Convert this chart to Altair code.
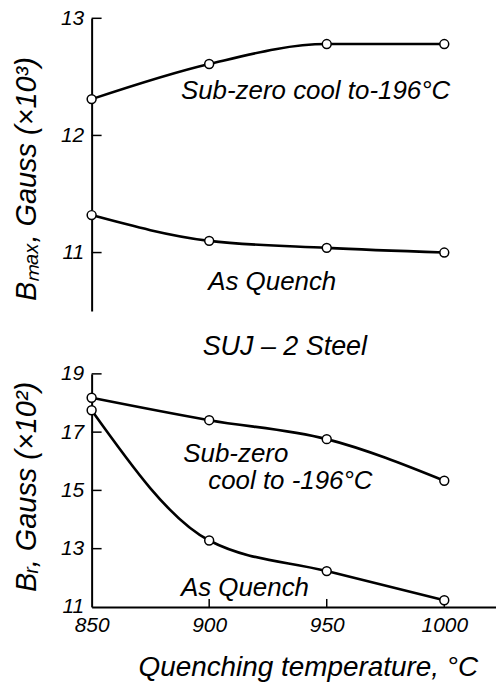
import altair as alt
import pandas as pd

# ---- data ----
temps = [850, 900, 950, 1000]
bmax_subzero = [12.31, 12.61, 12.78, 12.78]
bmax_as_quench = [11.32, 11.10, 11.04, 11.00]
br_subzero = [18.18, 17.41, 16.76, 15.33]
br_as_quench = [17.75, 13.28, 12.23, 11.23]

top_ticks = [11, 12, 13]
bottom_ticks = [13, 15, 17, 19]
x_ticks = [850, 900, 950, 1000]

top_labels = ["Sub-zero cool to-196°C", "As Quench"]
top_label_x = [888, 899.6]
top_label_y = [12.38, 10.75]

bottom_labels = ["Sub-zero", "cool to -196°C", "As Quench"]
bottom_label_x = [889, 899.6, 888]
bottom_label_y = [16.26, 15.31, 11.65]

FONT = "Liberation Sans"

def series_df(a, b):
    return pd.DataFrame({
        "temp": temps * 2,
        "value": a + b,
        "series": ["Sub-zero"] * len(temps) + ["As Quench"] * len(temps),
    })

top_df = series_df(bmax_subzero, bmax_as_quench)
bot_df = series_df(br_subzero, br_as_quench)

xscale = alt.Scale(domain=[850, 1022], nice=False, zero=False)

# ---------------- top panel ----------------
x_top = alt.X("temp:Q", scale=xscale, axis=None)
y_top = alt.Y(
    "value:Q",
    scale=alt.Scale(domain=[10.5, 13], nice=False, zero=False),
    axis=alt.Axis(
        values=top_ticks, title="Bₘₐₓ, Gauss (×10³)", ticks=False, tickSize=0,
        grid=False, labelPadding=8, domainColor="black", domainWidth=2, labelFlush=False,
        labelFont=FONT, labelFontSize=21, labelFontStyle="italic", labelColor="black",
        titleFont=FONT, titleFontSize=29, titleFontStyle="italic", titleFontWeight="normal",
        titleColor="black", titleX=-65, titleY=161, titleAngle=270,
        titleBaseline="middle", titleAlign="center",
    ),
)

top_line = alt.Chart(top_df).mark_line(interpolate="monotone", color="black", strokeWidth=2.6).encode(
    x=x_top, y=y_top, detail="series:N")
top_pts = alt.Chart(top_df).mark_point(shape="circle", filled=True, fill="white", stroke="black",
                                        strokeWidth=1.5, size=80, opacity=1).encode(x=x_top, y=y_top)
top_tick = alt.Chart(pd.DataFrame({"value": top_ticks})).mark_rule(color="black", strokeWidth=1.5).encode(
    y=y_top, x=alt.value(0), x2=alt.value(10))
top_text = alt.Chart(pd.DataFrame({"temp": top_label_x, "value": top_label_y, "label": top_labels})).mark_text(
    align="left", baseline="middle", font=FONT, fontSize=26, fontStyle="italic", color="black").encode(
    x=x_top, y=y_top, text="label:N")

top = alt.layer(top_tick, top_line, top_pts, top_text).properties(width=406, height=294)

# ---------------- bottom panel ----------------
x_bot = alt.X(
    "temp:Q", scale=xscale,
    axis=alt.Axis(
        values=x_ticks, format="d", title="Quenching temperature, °C", ticks=False, tickSize=0,
        grid=False, labelPadding=8, domainColor="black", domainWidth=2, labelFlush=False,
        labelFont=FONT, labelFontSize=21, labelFontStyle="italic", labelColor="black",
        titleFont=FONT, titleFontSize=28, titleFontStyle="italic", titleFontWeight="normal",
        titleColor="black", titleX=217, titleY=61, titleBaseline="middle", titleAlign="center",
    ),
)
y_bot = alt.Y(
    "value:Q",
    scale=alt.Scale(domain=[11, 19], nice=False, zero=False),
    axis=alt.Axis(
        values=[11] + bottom_ticks, title="Bᵣ, Gauss (×10²)", ticks=False, tickSize=0,
        grid=False, labelPadding=8, domainColor="black", domainWidth=2, labelFlush=False,
        labelFont=FONT, labelFontSize=21, labelFontStyle="italic", labelColor="black",
        titleFont=FONT, titleFontSize=29, titleFontStyle="italic", titleFontWeight="normal",
        titleColor="black", titleX=-65, titleY=113, titleAngle=270,
        titleBaseline="middle", titleAlign="center",
    ),
)

bot_line = alt.Chart(bot_df).mark_line(interpolate="monotone", color="black", strokeWidth=2.6).encode(
    x=x_bot, y=y_bot, detail="series:N")
bot_pts = alt.Chart(bot_df).mark_point(shape="circle", filled=True, fill="white", stroke="black",
                                        strokeWidth=1.5, size=80, opacity=1).encode(x=x_bot, y=y_bot)
bot_ytick = alt.Chart(pd.DataFrame({"value": bottom_ticks})).mark_rule(color="black", strokeWidth=1.5).encode(
    y=y_bot, x=alt.value(0), x2=alt.value(10))
bot_xtick = alt.Chart(pd.DataFrame({"temp": x_ticks[1:]})).mark_rule(color="black", strokeWidth=1.5).encode(
    x=x_bot, y=alt.value(234), y2=alt.value(226))
bot_text = alt.Chart(pd.DataFrame({"temp": bottom_label_x, "value": bottom_label_y, "label": bottom_labels})).mark_text(
    align="left", baseline="middle", font=FONT, fontSize=26, fontStyle="italic", color="black").encode(
    x=x_bot, y=y_bot, text="label:N")

bottom = alt.layer(bot_ytick, bot_xtick, bot_line, bot_pts, bot_text).properties(
    width=406, height=234,
    title=alt.TitleParams("SUJ – 2 Steel", font=FONT, fontSize=27, fontStyle="italic",
                          fontWeight="normal", color="black", offset=2, anchor="middle", dx=-9),
)

chart = alt.vconcat(top, bottom, spacing=22).configure_view(stroke=None).properties(
    padding={"left": 12, "top": 6, "right": 0, "bottom": 0}, background="white")

chart.save("out.html", embed_options={"renderer": "svg", "actions": False})
